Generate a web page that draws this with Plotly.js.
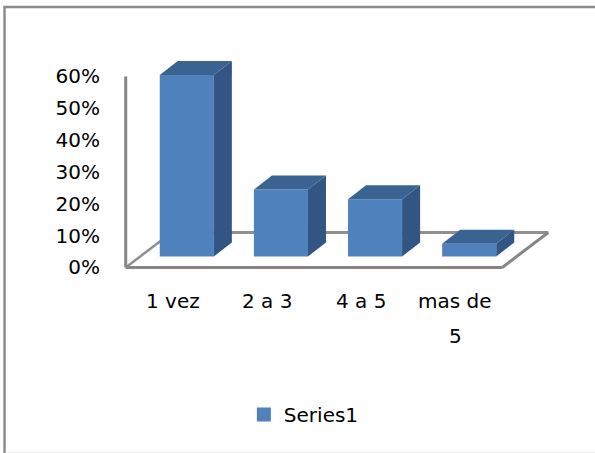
<!DOCTYPE html>
<html>
<head>
<meta charset="utf-8">
<script src="https://cdn.plot.ly/plotly-3.0.1.min.js"></script>
<style>
  html, body { margin: 0; padding: 0; background: #fff; }
  #chart { width: 595px; height: 453px; }
</style>
</head>
<body>
<div id="chart"></div>
<script>
// ---- data ----
const categories = ['1 vez', '2 a 3', '4 a 5', 'mas de 5'];
const tickLabels = ['1 vez', '2 a 3', '4 a 5', 'mas de<br>5'];
const values = [0.57, 0.21, 0.18, 0.04];
const seriesName = 'Series1';
const yTickVals = [0, 0.1, 0.2, 0.3, 0.4, 0.5, 0.6];

// ---- geometry / style ----
const W = 595, H = 453;
const PXX = 94;          // px per category
const PXY = 318.3;       // px per 1.0 on y
const X0PX = 126;        // pixel of x = -0.5
const Y0PX = 267;        // pixel of y = 0
const xr = [-0.55, 4.05];
const yr = [-0.03, 0.68];
const mLeft = X0PX - (-0.5 - xr[0]) * PXX;
const plotW = (xr[1] - xr[0]) * PXX;
const mTop = Y0PX - yr[1] * PXY;
const plotH = (yr[1] - yr[0]) * PXY;
const mRight = W - mLeft - plotW;
const mBottom = H - mTop - plotH;

const floorDX = 46 / PXX, floorDY = 35 / PXY;
const gapDX = 14 / PXX, gapDY = 11 / PXY;
const barDX = 18 / PXX, barDY = 14 / PXY;
const barW = 54 / PXX;

const FRONT = '#4F81BD', TOPC = '#3B6392', SIDE = '#325583';
const AXIS = '#868686';
const FONT = 'DejaVu Sans';
const FS = 20;

const pxToPaperX = px => (px - mLeft) / plotW;
const pxToPaperY = py => (mTop + plotH - py) / plotH;

const idx = categories.map((c, i) => i);

const traces = [];
traces.push({
  type: 'bar',
  name: seriesName,
  x: idx.map(i => i + gapDX),
  y: values,
  base: values.map(() => gapDY),
  width: values.map(() => barW),
  marker: { color: FRONT, line: { width: 0 } },
  showlegend: false,
  hoverinfo: 'skip'
});
// legend entry for the series (square swatch)
traces.push({
  type: 'scatter', mode: 'markers', name: seriesName,
  x: [null], y: [null],
  marker: { symbol: 'square', size: 14, color: FRONT, line: { width: 0 } },
  showlegend: true, hoverinfo: 'skip'
});

values.forEach((v, i) => {
  const xl = i + gapDX - barW / 2;
  const xR = i + gapDX + barW / 2;
  const b = gapDY;
  traces.push({
    type: 'scatter', mode: 'lines', fill: 'toself', fillcolor: SIDE,
    line: { width: 0, color: SIDE },
    x: [xR, xR + barDX, xR + barDX, xR, xR],
    y: [b, b + barDY, b + barDY + v, b + v, b],
    showlegend: false, hoverinfo: 'skip'
  });
  traces.push({
    type: 'scatter', mode: 'lines', fill: 'toself', fillcolor: TOPC,
    line: { width: 0, color: TOPC },
    x: [xl, xR, xR + barDX, xl + barDX, xl],
    y: [b + v, b + v, b + v + barDY, b + v + barDY, b + v],
    showlegend: false, hoverinfo: 'skip'
  });
});

const xa = -0.5, xb = categories.length - 0.5;
const seg = (x0, y0, x1, y1, w, c) => ({
  type: 'line', xref: 'x', yref: 'y', x0, y0, x1, y1, layer: 'below',
  line: { color: c || AXIS, width: w || 3 }
});
const shapes = [
  seg(xa + floorDX, floorDY, xb + floorDX, floorDY, 3, '#8f8f8f'),
  seg(xa, 0, xa + floorDX, floorDY, 2.5, '#8f8f8f'),
  seg(xb, 0, xb + floorDX, floorDY, 3),
  seg(xa, 0, xb, 0, 3),
  seg(xa, 0, xa, yTickVals[yTickVals.length - 1], 3),
  { type: 'line', xref: 'paper', yref: 'paper',
    x0: pxToPaperX(5), x1: pxToPaperX(5), y0: pxToPaperY(6), y1: pxToPaperY(H + 5),
    line: { color: '#8c8c8c', width: 2.5 } },
  { type: 'line', xref: 'paper', yref: 'paper',
    x0: pxToPaperX(4), x1: pxToPaperX(W + 5), y0: pxToPaperY(6.5), y1: pxToPaperY(6.5),
    line: { color: '#8c8c8c', width: 2.5 } },
  { type: 'line', xref: 'paper', yref: 'paper',
    x0: pxToPaperX(6), x1: pxToPaperX(W + 5), y0: pxToPaperY(452), y1: pxToPaperY(452),
    line: { color: '#ececec', width: 1 } }
];

const annotations = [];
tickLabels.forEach((lab, i) => {
  lab.split('<br>').forEach((line, k) => {
    annotations.push({
      xref: 'x', yref: 'paper', x: i, y: pxToPaperY(301 + k * 35),
      text: line, showarrow: false, xanchor: 'center', yanchor: 'middle',
      font: { family: FONT, size: FS, color: '#000' }
    });
  });
});

const layout = {
  width: W, height: H,
  margin: { l: mLeft, r: mRight, t: mTop, b: mBottom, pad: 0 },
  paper_bgcolor: '#fff', plot_bgcolor: 'rgba(0,0,0,0)',
  showlegend: true,
  legend: {
    orientation: 'h', x: pxToPaperX(244), xanchor: 'left',
    y: pxToPaperY(414), yanchor: 'middle',
    font: { family: FONT, size: FS, color: '#000' },
    bgcolor: 'rgba(0,0,0,0)', itemsizing: 'trace'
  },
  xaxis: {
    range: xr, showgrid: false, zeroline: false, showline: false,
    showticklabels: false, ticks: '', fixedrange: true
  },
  yaxis: {
    range: yr, showgrid: false, zeroline: false, showline: false,
    tickvals: yTickVals, tickformat: '.0%', ticks: 'outside', ticklen: 16,
    tickcolor: 'rgba(0,0,0,0)',
    tickfont: { family: FONT, size: FS, color: '#000' }, fixedrange: true
  },
  barmode: 'overlay',
  shapes: shapes, annotations: annotations,
  hovermode: false
};

Plotly.newPlot('chart', traces, layout, { displayModeBar: false, staticPlot: true });
</script>
</body>
</html>
